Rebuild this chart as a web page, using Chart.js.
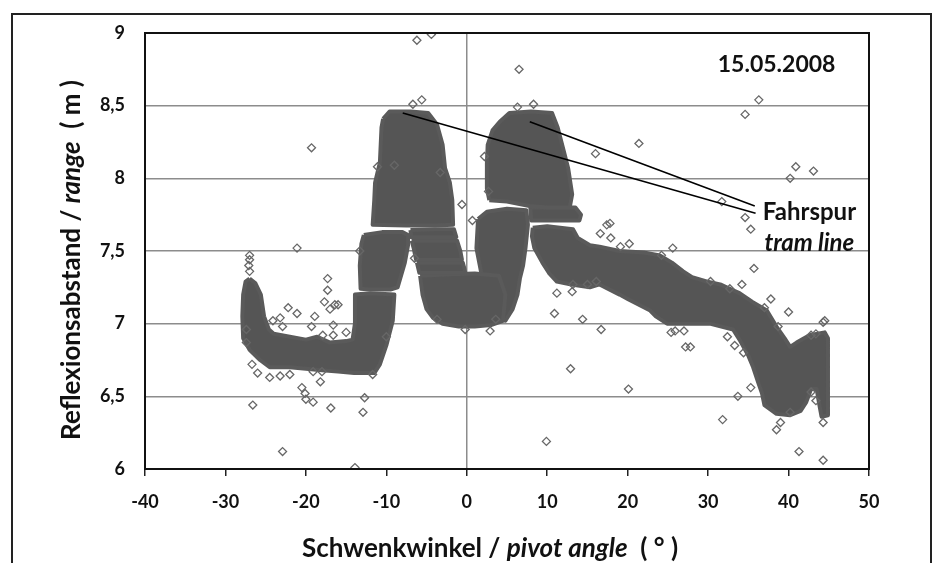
<!DOCTYPE html>
<html>
<head>
<meta charset="utf-8">
<script src="https://cdn.jsdelivr.net/npm/chart.js@4.4.0/dist/chart.umd.min.js"></script>
<style>
  html, body { margin: 0; padding: 0; background: #fff; }
  .wrap { position: relative; width: 936px; height: 563px; overflow: hidden; }
  .frame { position: absolute; left: 11px; top: 13px; width: 917px; height: 600px; border: 2px solid #222; }
  canvas { position: absolute; left: 0; top: 0; }
</style>
</head>
<body>
<div class="wrap">
  <div class="frame"></div>
  <canvas id="chart" width="936" height="563"></canvas>
</div>
<script>
// axes
const xTicks = [-40, -30, -20, -10, 0, 10, 20, 30, 40, 50];
const yTicks = [6, 6.5, 7, 7.5, 8, 8.5, 9];

// dense point clouds, traced as outlines (angle, range)
const uShape = [[-27.0,7.31],[-26.3,7.28],[-25.6,7.20],[-25.2,7.05],[-24.6,6.96],[-24.0,6.93],[-22.0,6.91],[-20.0,6.89],[-18.6,6.91],[-17.0,6.87],[-15.0,6.88],[-14.2,6.89],[-13.9,7.00],[-13.9,7.20],[-12.0,7.21],[-9.0,7.20],[-9.2,7.02],[-10.0,6.85],[-10.8,6.72],[-11.5,6.66],[-14.0,6.66],[-16.0,6.67],[-18.0,6.68],[-20.0,6.69],[-22.0,6.70],[-24.5,6.70],[-25.7,6.75],[-27.0,6.82],[-27.8,6.90],[-27.9,7.05],[-27.8,7.20],[-27.5,7.29]];
const leftBlock = [[-12.8,7.61],[-10.5,7.63],[-8.0,7.63],[-7.3,7.61],[-7.3,7.54],[-7.7,7.42],[-8.6,7.25],[-9.5,7.235],[-12.0,7.235],[-13.2,7.24],[-13.3,7.40],[-13.1,7.55]];
const leftPeak = [[-10.4,8.41],[-9.6,8.46],[-7.0,8.46],[-4.8,8.45],[-3.7,8.37],[-3.0,8.23],[-2.7,8.07],[-2.1,7.97],[-1.8,7.85],[-1.7,7.68],[-4.0,7.675],[-7.5,7.675],[-11.7,7.68],[-11.5,7.85],[-11.4,7.97],[-10.8,8.11],[-10.6,8.35]];
const stripeA = [[-7.0,7.645],[-4.0,7.65],[-1.6,7.65],[-1.3,7.595],[-6.9,7.595]];
const stripeB = [[-6.85,7.57],[-1.2,7.57],[-0.8,7.50],[-0.6,7.44],[-6.3,7.44],[-6.6,7.52]];
const stripeC = [[-6.2,7.42],[-0.5,7.42],[-0.3,7.38],[-0.2,7.35],[-5.9,7.35]];
const valley = [[-5.8,7.33],[-5.5,7.20],[-5.0,7.10],[-4.2,7.04],[-3.0,7.00],[-1.0,6.98],[1.0,6.98],[3.0,6.99],[4.5,7.02],[4.8,7.20],[4.0,7.33],[1.0,7.345],[-2.0,7.34]];
const rightLower = [[1.4,7.72],[2.5,7.77],[5.0,7.79],[7.4,7.78],[7.6,7.68],[7.3,7.52],[7.0,7.40],[6.6,7.31],[6.3,7.20],[5.7,7.10],[4.8,7.02],[3.0,7.10],[1.9,7.32],[1.2,7.52]];
const rightPeak = [[2.8,7.85],[2.5,7.93],[2.5,8.10],[2.6,8.23],[3.2,8.33],[4.1,8.39],[5.3,8.45],[8.0,8.46],[10.6,8.45],[11.3,8.35],[12.0,8.20],[12.6,8.07],[13.1,7.89],[12.8,7.80],[10.0,7.80],[7.8,7.81],[5.0,7.84]];
const midBand = [[7.9,7.80],[13.5,7.80],[14.2,7.75],[14.0,7.71],[8.0,7.71]];
const decline = [[8.2,7.66],[10.0,7.67],[13.2,7.65],[13.8,7.59],[15.3,7.54],[16.5,7.53],[19.0,7.50],[22.0,7.49],[24.0,7.47],[25.5,7.42],[26.9,7.36],[28.0,7.32],[29.8,7.29],[31.5,7.27],[33.1,7.23],[33.9,7.21],[35.5,7.15],[37.3,7.09],[38.5,6.98],[39.5,6.90],[40.2,6.84],[41.0,6.87],[42.6,6.92],[44.5,6.94],[44.9,6.90],[44.9,6.37],[44.1,6.36],[43.8,6.45],[43.5,6.55],[42.8,6.55],[42.2,6.46],[41.5,6.40],[40.2,6.37],[38.5,6.38],[37.0,6.44],[36.7,6.52],[36.2,6.60],[35.6,6.70],[35.0,6.78],[33.9,6.89],[33.1,6.96],[30.2,7.00],[27.0,7.00],[24.9,7.00],[23.5,7.05],[22.8,7.09],[20.0,7.17],[19.0,7.20],[16.5,7.27],[15.3,7.25],[13.0,7.27],[11.2,7.29],[10.2,7.35],[9.4,7.42],[8.4,7.52],[8.1,7.60]];

// scattered single reflections
const outliers = [
  [-6.2,8.95],[-4.4,8.99],[-6.7,8.51],[-5.6,8.54],[-19.3,8.21],[-11.1,8.08],[-9.0,8.09],[-3.3,8.04],[-0.6,7.82],
  [-21.1,7.52],[-13.3,7.50],[-6.5,7.45],[-27.0,7.47],[-27.0,7.44],[-27.1,7.40],[-27.0,7.36],[-17.3,7.31],
  [6.5,8.75],[6.3,8.49],[8.3,8.51],[34.6,8.44],[36.3,8.54],[21.4,8.24],[16.0,8.17],[2.2,8.15],[40.2,8.00],
  [40.9,8.08],[43.1,8.05],[31.7,7.84],[34.6,7.73],[35.3,7.65],[35.7,7.38],[2.7,7.91],[0.7,7.71],[17.4,7.68],
  [17.8,7.69],[16.6,7.62],[17.9,7.59],[19.1,7.53],[20.2,7.55],[25.6,7.52],[24.2,7.47],
  [-27.4,6.87],[-27.4,6.96],[-26.7,6.72],[-26.0,6.66],[-24.5,6.63],[-23.2,6.64],[-22.0,6.65],[-26.6,6.44],
  [-22.9,6.12],[-13.9,6.01],[-20.5,6.56],[-20.1,6.52],[-20.0,6.48],[-19.1,6.46],[-18.2,6.60],[-19.1,6.67],
  [-18.0,6.67],[-16.9,6.42],[-12.7,6.49],[-12.9,6.39],[-11.7,6.65],
  [-22.2,7.11],[-21.1,7.07],[-18.9,7.05],[-17.7,7.15],[-17.0,7.10],[-16.4,7.13],[-16.0,7.13],[-19.3,6.98],
  [-16.6,6.99],[-17.9,6.92],[-15.0,6.94],[-16.6,6.92],[-24.1,7.02],[-23.2,7.04],[-22.9,6.98],[-3.7,7.03],
  [-0.2,6.96],[-17.3,7.23],[-10.0,6.91],
  [11.2,7.21],[10.9,7.07],[13.2,7.27],[13.1,7.22],[15.0,7.27],[16.1,7.29],[14.4,7.03],[16.7,6.96],[12.9,6.69],
  [20.1,6.55],[9.9,6.19],[2.9,6.95],[3.6,7.03],[25.4,6.94],[25.9,6.95],[27.0,6.95],[27.2,6.84],[27.8,6.84],
  [30.3,7.29],[32.7,7.24],[34.2,7.27],[32.4,6.91],[33.3,6.85],[34.4,6.80],[35.3,6.56],[33.7,6.50],[31.8,6.34],
  [37.8,7.17],[40.0,7.08],[37.0,7.11],[38.7,6.98],[39.0,6.32],[38.5,6.27],[41.3,6.12],[44.3,6.06],[44.3,6.32],
  [44.3,7.01],[44.5,7.02],[42.8,6.92],[43.4,6.93],[42.8,6.53],[43.4,6.47],[40.2,6.39]
];

// leader lines to the tram line label
const leaderA = [[-7.96,8.45],[35.9,7.76]];
const leaderB = [[7.83,8.39],[35.8,7.81]];

const dateText = '15.05.2008';
const laneText = 'Fahrspur';
const laneTextEn = 'tram line';

const FONT = 'Lato, "DejaVu Sans", sans-serif';
const toPts = arr => arr.map(([x, y]) => ({ x, y }));
const closed = arr => toPts(arr.concat([arr[0]]));

const blob = arr => ({
  type: 'line',
  data: closed(arr),
  fill: 'shape',
  backgroundColor: '#555555',
  borderColor: '#5a5a5a',
  borderWidth: 4,
  borderJoinStyle: 'round',
  pointRadius: 0,
  tension: 0,
  order: 3,
});

const leader = arr => ({
  type: 'line',
  data: toPts(arr),
  borderColor: '#000',
  borderWidth: 1.6,
  pointRadius: 0,
  fill: false,
  order: 0,
});

const datasets = [
  leader(leaderA),
  leader(leaderB),
  {
    data: toPts(outliers),
    pointStyle: 'rectRot',
    pointRadius: 4,
    borderWidth: 1.3,
    borderColor: '#676767',
    backgroundColor: 'rgba(255,255,255,0)',
    order: 1,
  },
  ...[uShape, leftBlock, leftPeak, stripeA, stripeB, stripeC, valley, rightLower, rightPeak, midBand, decline].map(blob),
];

function drawRuns(ctx, runs, cx, cy) {
  let total = 0;
  runs.forEach(r => { ctx.font = r.font; r.w = ctx.measureText(r.text).width; total += r.w; });
  let x = cx - total / 2;
  runs.forEach(r => { ctx.font = r.font; ctx.fillText(r.text, x, cy); x += r.w; });
}

const overlay = {
  id: 'overlay',
  afterDatasetsDraw(chart) {
    const { ctx, chartArea: a, scales: { x, y } } = chart;
    ctx.save();
    ctx.strokeStyle = '#111';
    ctx.lineWidth = 2;
    ctx.strokeRect(a.left, a.top, a.right - a.left, a.bottom - a.top);

    ctx.fillStyle = '#111';
    ctx.textAlign = 'left';
    ctx.textBaseline = 'alphabetic';
    ctx.font = 'bold 23px ' + FONT;
    ctx.fillText(dateText, x.getPixelForValue(31.2), y.getPixelForValue(8.73));
    ctx.font = 'bold 24px ' + FONT;
    ctx.fillText(laneText, x.getPixelForValue(36.8), y.getPixelForValue(7.71));
    ctx.font = 'italic bold 24px ' + FONT;
    ctx.fillText(laneTextEn, x.getPixelForValue(37.0), y.getPixelForValue(7.5));

    const b = 'bold 26px ' + FONT, bi = 'italic bold 26px ' + FONT;
    drawRuns(ctx, [
      { text: 'Schwenkwinkel / ', font: b },
      { text: 'pivot angle', font: bi },
      { text: '  ( ° )', font: b },
    ], 490, 557);

    ctx.translate(80, 260);
    ctx.rotate(-Math.PI / 2);
    drawRuns(ctx, [
      { text: 'Reflexionsabstand / ', font: b },
      { text: 'range', font: bi },
      { text: '  ( m )', font: b },
    ], 0, 0);
    ctx.restore();
  },
};

new Chart(document.getElementById('chart'), {
  type: 'scatter',
  data: { datasets },
  options: {
    responsive: false,
    animation: false,
    devicePixelRatio: 1,
    layout: { padding: { left: 0, top: 33, right: 67, bottom: 0 } },
    plugins: { legend: { display: false }, tooltip: { enabled: false } },
    scales: {
      x: {
        type: 'linear',
        min: -40,
        max: 50,
        afterFit: s => { s.height = 94; },
        afterBuildTicks: s => { s.ticks = xTicks.map(v => ({ value: v })); },
        ticks: {
          color: '#111',
          padding: 15,
          font: { family: FONT, size: 18, weight: 'bold' },
        },
        grid: {
          color: c => (c.tick && c.tick.value === 0 ? '#8c8c8c' : 'rgba(0,0,0,0)'),
          lineWidth: 1.5,
          tickColor: '#222',
          tickLength: 7,
          tickWidth: 1.5,
        },
        border: { display: false },
      },
      y: {
        type: 'linear',
        min: 6,
        max: 9,
        afterFit: s => { s.width = 145; },
        afterBuildTicks: s => { s.ticks = yTicks.map(v => ({ value: v })); },
        ticks: {
          color: '#111',
          padding: 20,
          font: { family: FONT, size: 18, weight: 'bold' },
          callback: v => String(v).replace('.', ','),
        },
        grid: {
          color: c => (c.tick && (c.tick.value === 6 || c.tick.value === 9) ? 'rgba(0,0,0,0)' : '#8c8c8c'),
          lineWidth: 1.5,
          drawTicks: false,
        },
        border: { display: false },
      },
    },
  },
  plugins: [overlay],
});
</script>
</body>
</html>
